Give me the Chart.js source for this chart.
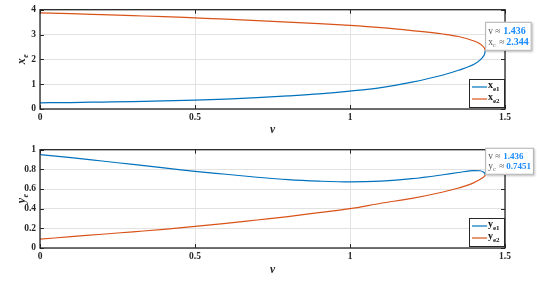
<!DOCTYPE html>
<html>
<head>
<meta charset="utf-8">
<script src="https://cdn.jsdelivr.net/npm/chart.js@4/dist/chart.umd.min.js"></script>
<style>
  html, body { margin: 0; padding: 0; background: #fff; }
  #wrap { position: relative; width: 537px; height: 282px; }
  #c1 { position: absolute; left: 0; top: 0; }
  #c2 { position: absolute; left: 0; top: 140px; }
</style>
</head>
<body>
<div id="wrap">
  <canvas id="c1" width="537" height="140"></canvas>
  <canvas id="c2" width="537" height="142"></canvas>
</div>
<script>
// bifurcation parameter v (both branches meet at the fold v ~ 1.436)
const vVals = [0, 0.1, 0.2, 0.3, 0.4, 0.5, 0.6, 0.7, 0.8, 0.9, 1.0, 1.1, 1.2, 1.3, 1.35, 1.4, 1.42, 1.43, 1.435, 1.436];
const xe1 = [0.25, 0.26, 0.28, 0.30, 0.33, 0.36, 0.40, 0.46, 0.53, 0.61, 0.72, 0.86, 1.08, 1.37, 1.56, 1.80, 1.98, 2.12, 2.25, 2.344];
const xe2 = [3.87, 3.84, 3.80, 3.76, 3.72, 3.67, 3.62, 3.56, 3.50, 3.44, 3.37, 3.28, 3.16, 3.02, 2.92, 2.74, 2.62, 2.51, 2.41, 2.344];
const ye1 = [0.95, 0.92, 0.885, 0.85, 0.815, 0.78, 0.75, 0.72, 0.695, 0.68, 0.672, 0.68, 0.705, 0.745, 0.768, 0.788, 0.786, 0.772, 0.758, 0.7451];
const ye2 = [0.09, 0.115, 0.14, 0.165, 0.19, 0.22, 0.25, 0.285, 0.32, 0.36, 0.40, 0.455, 0.505, 0.57, 0.61, 0.665, 0.70, 0.72, 0.735, 0.7451];
const xTicks = [0, 0.5, 1, 1.5];
const foldV = 1.436;
const xcText = '2.344';
const ycText = '0.7451';

const BLUE = '#0072BD';
const ORANGE = '#D95319';
const SERIF = "'Liberation Serif', 'DejaVu Serif', serif";

function pts(ys) {
  return vVals.map((v, i) => ({ x: v, y: ys[i] }));
}

// frame, inward ticks, y-title with subscript, legend and data tip
const framePlugin = {
  id: 'frame',
  afterDraw(chart, args, o) {
    const { ctx, chartArea: a, scales: { x, y } } = chart;
    ctx.save();
    ctx.strokeStyle = '#262626';
    ctx.lineWidth = 1;
    ctx.beginPath();
    x.ticks.forEach(t => {
      const px = Math.round(x.getPixelForValue(t.value)) + 0.5;
      ctx.moveTo(px, a.bottom); ctx.lineTo(px, a.bottom - 4);
      ctx.moveTo(px, a.top); ctx.lineTo(px, a.top + 4);
    });
    y.ticks.forEach(t => {
      const py = Math.round(y.getPixelForValue(t.value)) + 0.5;
      ctx.moveTo(a.left, py); ctx.lineTo(a.left + 4, py);
      ctx.moveTo(a.right, py); ctx.lineTo(a.right - 4, py);
    });
    ctx.stroke();
    ctx.lineWidth = 1.3;
    ctx.strokeRect(a.left, a.top, a.width, a.height);

    // y axis title
    ctx.save();
    ctx.translate(22, (a.top + a.bottom) / 2);
    ctx.rotate(-Math.PI / 2);
    ctx.fillStyle = '#262626';
    ctx.textBaseline = 'alphabetic';
    ctx.font = 'italic bold 12px ' + SERIF;
    const w1 = ctx.measureText(o.yName).width;
    ctx.font = 'italic bold 8px ' + SERIF;
    const w2 = ctx.measureText('e').width;
    const sx = -(w1 + w2) / 2;
    ctx.font = 'italic bold 12px ' + SERIF;
    ctx.fillText(o.yName, sx, 3);
    ctx.font = 'italic bold 8px ' + SERIF;
    ctx.fillText('e', sx + w1 + 0.5, 6);
    ctx.restore();

    // legend
    const lw = 35, lh = 28;
    const lx = a.right - lw - 1, ly = a.bottom - lh - 2;
    ctx.fillStyle = '#fff';
    ctx.fillRect(lx, ly, lw, lh);
    ctx.strokeStyle = '#262626';
    ctx.lineWidth = 1;
    ctx.strokeRect(lx + 0.5, ly + 0.5, lw, lh);
    [[BLUE, o.subs[0]], [ORANGE, o.subs[1]]].forEach(([c, s], i) => {
      const ry = ly + 8 + i * 12;
      ctx.strokeStyle = c;
      ctx.lineWidth = 1.2;
      ctx.beginPath();
      ctx.moveTo(lx + 3, ry); ctx.lineTo(lx + 18, ry);
      ctx.stroke();
      ctx.fillStyle = '#111';
      ctx.font = 'bold 10px ' + SERIF;
      ctx.fillText(o.yName, lx + 19, ry + 1);
      const wx = ctx.measureText(o.yName).width;
      ctx.font = 'bold 7px ' + SERIF;
      ctx.fillText(s, lx + 19 + wx, ry + 4);
    });

    // data tip at the fold
    const px = x.getPixelForValue(foldV);
    const py = y.getPixelForValue(o.tipVal);
    const numFont = 'bold ' + o.tipSize + 'px ' + SERIF;
    ctx.font = numFont;
    const n1 = 18, n2 = 21;
    const bw = Math.max(45, Math.max(n1 + ctx.measureText(foldV.toFixed(3)).width,
                                     n2 + ctx.measureText(o.tipText).width) + 3);
    const bh = o.tipH;
    const bx = px, by = py - bh;
    ctx.save();
    ctx.shadowColor = 'rgba(0,0,0,0.25)';
    ctx.shadowBlur = 2;
    ctx.shadowOffsetX = 1;
    ctx.shadowOffsetY = 1;
    ctx.fillStyle = '#fff';
    ctx.fillRect(bx, by, bw, bh);
    ctx.restore();
    ctx.strokeStyle = '#b0b0b0';
    ctx.lineWidth = 1;
    ctx.strokeRect(bx + 0.5, by + 0.5, bw - 1, bh - 1);
    ctx.textBaseline = 'middle';
    const line1 = by + bh * 0.33, line2 = by + bh * 0.7;
    ctx.fillStyle = '#555';
    ctx.font = '9.5px ' + SERIF;
    ctx.fillText('v \u2248', bx + 3, line1);
    ctx.fillText(o.yName, bx + 3, line2);
    const wn = ctx.measureText(o.yName).width;
    ctx.font = '6px ' + SERIF;
    ctx.fillText('c', bx + 3 + wn, line2 + 3);
    ctx.font = '9.5px ' + SERIF;
    ctx.fillText('\u2248', bx + 14, line2);
    ctx.fillStyle = '#1a8cff';
    ctx.font = numFont;
    ctx.fillText(foldV.toFixed(3), bx + n1, line1);
    ctx.fillText(o.tipText, bx + n2, line2);
    ctx.restore();
  }
};

function makeChart(id, a, b, yMax, yStep, padTop, xHeight, titlePad, tip) {
  return new Chart(document.getElementById(id), {
    type: 'scatter',
    data: {
      datasets: [
        { data: pts(a), borderColor: BLUE, showLine: true, pointRadius: 0, borderWidth: 1.2, cubicInterpolationMode: 'monotone' },
        { data: pts(b), borderColor: ORANGE, showLine: true, pointRadius: 0, borderWidth: 1.2, cubicInterpolationMode: 'monotone' }
      ]
    },
    options: {
      responsive: false,
      animation: false,
      events: [],
      layout: { padding: { left: 0, right: 32, top: padTop, bottom: 0 } },
      plugins: { legend: { display: false }, tooltip: { enabled: false }, frame: tip },
      scales: {
        x: {
          type: 'linear', min: 0, max: 1.5,
          afterBuildTicks: s => { s.ticks = xTicks.map(v => ({ value: v })); },
          afterFit: s => { s.height = xHeight; },
          ticks: { padding: 3, color: '#262626', font: { family: SERIF, size: 9.5, weight: 'bold' }, maxRotation: 0,
                   callback: v => String(v) },
          grid: { color: '#e2e2e2', drawTicks: false },
          border: { display: false },
          title: { display: true, text: 'v', color: '#262626', padding: { top: 0, bottom: titlePad },
                   font: { family: SERIF, size: 11.5, weight: 'bold', style: 'italic' } }
        },
        y: {
          min: 0, max: yMax,
          afterFit: s => { s.width = 40; },
          ticks: { stepSize: yStep, padding: 4, color: '#262626', font: { family: SERIF, size: 9.5, weight: 'bold' },
                   callback: v => String(Math.round(v * 10) / 10) },
          grid: { color: '#e2e2e2', drawTicks: false },
          border: { display: false }
        }
      }
    },
    plugins: [framePlugin]
  });
}

makeChart('c1', xe1, xe2, 4, 1, 9.5, 31, 3.4,
  { yName: 'x', subs: ['e1', 'e2'], tipVal: 2.344, tipText: xcText, tipH: 29, tipSize: 10 });
makeChart('c2', ye1, ye2, 1, 0.2, 8, 34, 5.4,
  { yName: 'y', subs: ['e1', 'e2'], tipVal: 0.7451, tipText: ycText, tipH: 27, tipSize: 9 });
</script>
</body>
</html>
